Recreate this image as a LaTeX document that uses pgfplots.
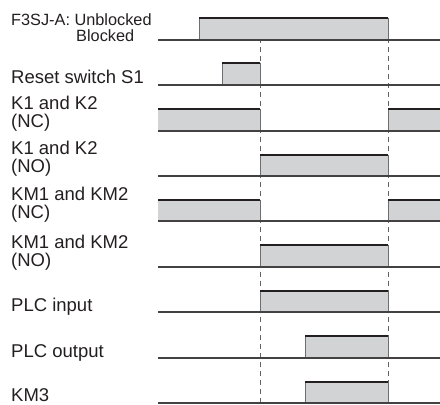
\documentclass[border=0pt]{standalone}
\usepackage{pgfplots}
\pgfplotsset{compat=1.18}
\usepackage{fontspec}
\setmainfont{Liberation Sans}
\definecolor{sig}{HTML}{D1D3D4}
\definecolor{ink}{HTML}{231F20}
\definecolor{edge}{HTML}{6D6E71}
\newcommand{\lab}[3]{\node[anchor=base west,inner sep=0pt,text=ink,font=\fontsize{18.5}{20}\selectfont] at (axis cs:#1,#2) {#3};}
% pulse: x1, x2, base, high
\newcommand{\pulse}[4]{%
  \addplot[fill=sig,draw=none] coordinates {(#1,#3) (#1,#4) (#2,#4) (#2,#3)} -- cycle;
  \addplot[edge,line width=1pt] coordinates {(#1,#3) (#1,#4)};
  \addplot[edge,line width=1pt] coordinates {(#2,#4) (#2,#3)};
  \addplot[ink,line width=2.6pt] coordinates {(#1,#4) (#2,#4)};}
\newcommand{\basel}[1]{\addplot[ink!85,line width=1.2pt] coordinates {(158,#1) (440,#1)};}
\begin{document}
\begin{tikzpicture}
\begin{axis}[width=440pt,height=405pt,scale only axis,
  xmin=0,xmax=440,ymin=0,ymax=405,y dir=reverse,
  axis lines=none,clip=false,at={(0,0)},anchor=south west]
% dashed markers
\addplot[ink!70,line width=0.9pt,dash pattern=on 5pt off 4pt] coordinates {(260,20) (260,405)};
\addplot[ink!70,line width=0.9pt,dash pattern=on 5pt off 4pt] coordinates {(388,20) (388,405)};
% F3SJ-A
\pulse{199}{388}{40}{18}
\basel{40}
% Reset S1
\pulse{222}{260}{85}{63}
\basel{85}
% K1 K2 NC
\addplot[fill=sig,draw=none] coordinates {(158,131) (158,109) (260,109) (260,131)} -- cycle;
\addplot[fill=sig,draw=none] coordinates {(388,131) (388,109) (440,109) (440,131)} -- cycle;
\addplot[edge,line width=1pt] coordinates {(260,109) (260,131)};
\addplot[edge,line width=1pt] coordinates {(388,109) (388,131)};
\addplot[ink,line width=2.6pt] coordinates {(158,109) (260,109)};
\addplot[ink,line width=2.6pt] coordinates {(388,109) (440,109)};
\basel{131}
% K1 K2 NO
\pulse{260}{388}{176}{155}
\basel{176}
% KM1 KM2 NC
\addplot[fill=sig,draw=none] coordinates {(158,221) (158,200) (260,200) (260,221)} -- cycle;
\addplot[fill=sig,draw=none] coordinates {(388,221) (388,200) (440,200) (440,221)} -- cycle;
\addplot[edge,line width=1pt] coordinates {(260,200) (260,221)};
\addplot[edge,line width=1pt] coordinates {(388,200) (388,221)};
\addplot[ink,line width=2.6pt] coordinates {(158,200) (260,200)};
\addplot[ink,line width=2.6pt] coordinates {(388,200) (440,200)};
\basel{221}
% KM1 KM2 NO
\pulse{260}{388}{267}{245}
\basel{267}
% PLC input
\pulse{260}{388}{312}{291}
\basel{312}
% PLC output
\pulse{305}{388}{358}{336}
\basel{358}
% KM3
\pulse{305}{388}{403}{382}
\basel{403}
% labels
\node[anchor=base west,inner sep=0pt,text=ink,font=\fontsize{16.3}{18}\selectfont] at (axis cs:11,25) {F3SJ-A: Unblocked};
\node[anchor=base west,inner sep=0pt,text=ink,font=\fontsize{16.3}{18}\selectfont] at (axis cs:76,41) {Blocked};
\lab{11}{83}{Reset switch S1}
\lab{11}{109}{K1 and K2}
\lab{11}{127}{(NC)}
\lab{11}{154}{K1 and K2}
\lab{11}{172}{(NO)}
\lab{11}{200}{KM1 and KM2}
\lab{11}{218}{(NC)}
\lab{11}{248}{KM1 and KM2}
\lab{11}{266}{(NO)}
\lab{11}{311}{PLC input}
\lab{11}{357}{PLC output}
\lab{11}{401}{KM3}
\end{axis}
\pgfresetboundingbox
\path[use as bounding box] (0,0) rectangle (440pt,405pt);
\end{tikzpicture}
\end{document}
